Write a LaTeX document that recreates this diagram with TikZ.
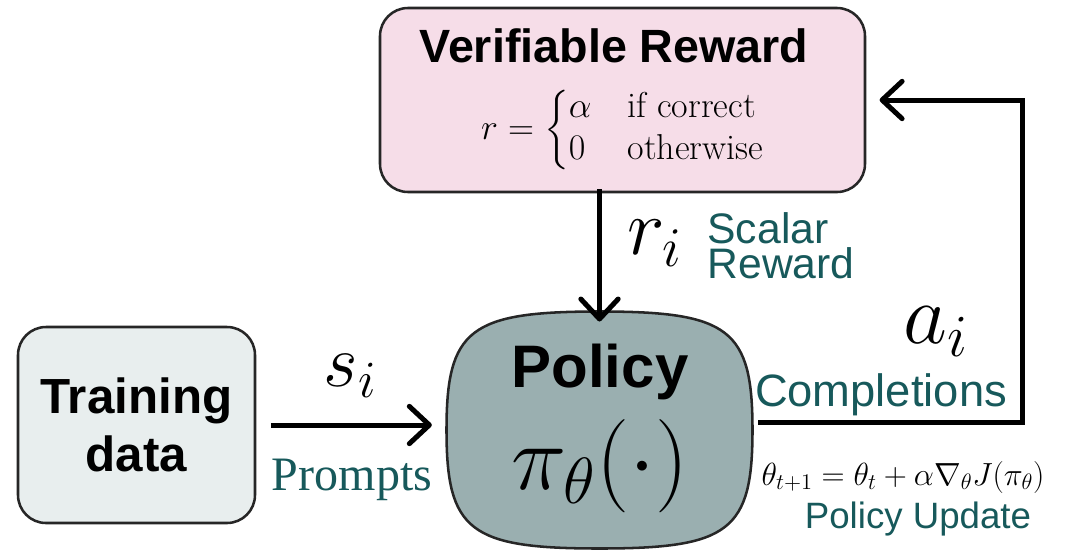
\RequirePackage{fix-cm}
\documentclass[tikz,border=0pt]{standalone}
\usepackage{amsmath}
\usepackage{fontspec}
\newfontfamily\sansf{Liberation Sans}
\newfontfamily\seriff{Liberation Serif}
\usetikzlibrary{arrows.meta,calc,backgrounds}

\definecolor{rewfill}{RGB}{246,221,232}
\definecolor{polfill}{RGB}{154,175,176}
\definecolor{datfill}{RGB}{232,238,238}
\definecolor{tealtxt}{RGB}{23,89,91}

\tikzset{every picture/.style={line width=0.75pt}}
\tikzset{
  box/.style={draw=black!85, line width=1.9pt, rounded corners=21pt, inner sep=0pt},
  flow/.style={line width=3.75pt, -{Straight Barb[length=15pt,width=28pt,line cap=round,line join=round]}},
  lbl/.style={text=tealtxt, inner sep=0.75pt},
}

\begin{document}
\begin{tikzpicture}[x=0.75pt,y=0.75pt,yscale=-1,xscale=1]
\useasboundingbox (0,0) rectangle (1083,558);

%Rounded Rect: reward
\node [box, fill=rewfill, minimum width=363.75pt, minimum height=138pt] (rew) at (622.5,100) {};
%Rounded Rect: training data
\node [box, fill=datfill, minimum width=177.75pt, minimum height=147pt, align=center,
  font=\sansf\bfseries\fontsize{37}{43}\selectfont] (dat) at (136.5,425) {Training\\data};
%Squircle: policy
\node [inner sep=0pt, minimum width=228.75pt, minimum height=177pt] (pol) at (599.5,430) {};
\begin{scope}[on background layer]
\draw [fill=polfill, draw=black!85, line width=1.9pt]
  (pol.west) .. controls ($(pol.west)!0.85!(pol.north west)$) and ($(pol.north)!0.85!(pol.north west)$) .. (pol.north)
  .. controls ($(pol.north)!0.85!(pol.north east)$) and ($(pol.east)!0.85!(pol.north east)$) .. (pol.east)
  .. controls ($(pol.east)!0.85!(pol.south east)$) and ($(pol.south)!0.85!(pol.south east)$) .. (pol.south)
  .. controls ($(pol.south)!0.85!(pol.south west)$) and ($(pol.west)!0.85!(pol.south west)$) .. cycle;
\end{scope}

% Text Node
\node [inner sep=0.75pt, font=\sansf\bfseries\fontsize{35}{42}\selectfont] (rewt) at (614,46) {Verifiable Reward};
% Text Node
\node [inner sep=0pt, font=\fontsize{27}{26}\selectfont] (rewf) at (623,130)
  {$r=\begin{cases}\alpha & \text{if correct}\\ 0 & \text{otherwise}\end{cases}$};
% Text Node
\node [inner sep=0.75pt, font=\sansf\bfseries\fontsize{45}{54}\selectfont] (polt) at (600,372) {Policy};
% Text Node
\node [inner sep=0.75pt, font=\fontsize{70}{84}\selectfont] (polf) at (600,466) {$\pi_\theta(\cdot)$};

%Straight Lines
\coordinate (outa) at (758,422);
\coordinate (outb) at (1022,422);
\coordinate (outc) at (1022,100);
\draw [flow] (rew.south -| pol.north) ++(0,-4) -- ([yshift=7.5pt]pol.north);
\draw [flow, shorten <=11pt, shorten >=11pt] (dat.east |- 0,425) -- (pol.west |- 0,425);
\draw [flow, line join=miter, shorten >=10pt] (outa) -- (outb) -- (outc) -- (rew.east |- outc);

% Text Node
\node [inner sep=0pt, font=\fontsize{60}{72}\selectfont] (ri) at (655,243) {$r_i$};
\node [lbl, anchor=west, align=left, font=\sansf\fontsize{32}{26}\selectfont] (scal) at (706,246) {Scalar\\Reward};
% Text Node
\node [inner sep=0.75pt, font=\fontsize{56}{67}\selectfont] (si) at (350,376) {$s_i$};
\node [lbl, font=\seriff\fontsize{36}{43}\selectfont] (prm) at (352,480) {Prompts};
% Text Node
\node [inner sep=0.75pt, font=\fontsize{64}{77}\selectfont] (ai) at (936,332) {$a_i$};
\node [lbl, font=\sansf\fontsize{34}{41}\selectfont] (cmp) at (881,395) {Completions};
% Text Node
\node [inner sep=0.75pt, font=\fontsize{24}{29}\selectfont] (upd) at (903,477)
  {$\theta_{t+1}=\theta_t+\alpha\nabla_\theta J(\pi_\theta)$};
\node [lbl, font=\sansf\fontsize{27.5}{33}\selectfont] (updt) at (918,519) {Policy Update};

\end{tikzpicture}
\end{document}
